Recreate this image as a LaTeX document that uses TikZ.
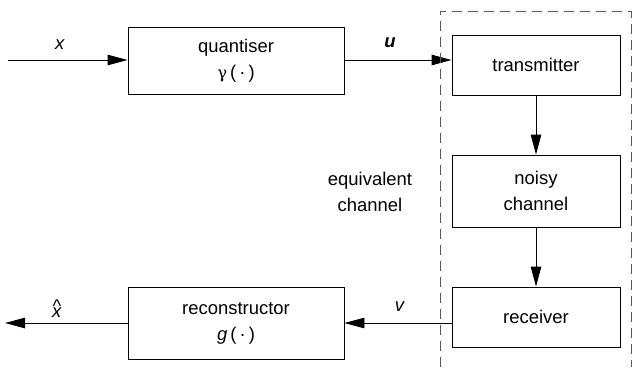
\documentclass[tikz,border=0pt]{standalone}
\usepackage{fontspec}
\setmainfont{Liberation Sans}
\newfontfamily\grk{DejaVu Serif}
\usetikzlibrary{arrows.meta}
\begin{document}
\begin{tikzpicture}[x=1bp,y=-1bp,
  blk/.style={draw, line width=0.9bp, align=center, inner sep=0pt, font=\fontsize{18.5}{26}\selectfont},
  arr/.style={line width=0.9bp, -{Triangle[length=20bp,width=10.5bp]}},
  lbl/.style={font=\fontsize{18.5}{26}\selectfont},
  dashline/.style={line width=0.9bp, dash pattern=on 10bp off 6bp, draw=black!65}]
\useasboundingbox (0,0) rectangle (632,367);
\node[blk, minimum width=216bp, minimum height=67bp] (q) at (236,61) {quantiser\\ {\grk\fontsize{16.5}{26}\selectfont γ}\,(\,·\,)};
\node[blk, minimum width=168bp, minimum height=60bp] (t) at (536,65) {transmitter};
\node[blk, minimum width=168bp, minimum height=72bp] (n) at (536,191) {noisy\\ channel};
\node[blk, minimum width=168bp, minimum height=60bp] (r) at (536,317) {receiver};
\node[blk, minimum width=216bp, minimum height=72bp] (rc) at (236,323) {reconstructor\\ \textit{g}\,(\,·\,)};
\node[lbl, align=center] (eq) at (370,192) {equivalent\\ channel};
\coordinate (in) at (8,60);
\coordinate (out) at (5,323);
\draw[arr] (in) -- (q.west |- in);
\draw[arr] (q.east |- in) -- (t.west |- in);
\draw[arr] (t.south) -- (n.north);
\draw[arr] (n.south) -- (r.north);
\draw[arr] (r.west |- rc.east) -- (rc.east);
\draw[arr] (rc.west) -- (out);
\node[lbl] (lx) at (60,45) {\textit{x}};
\node[lbl] (lu) at (390,43) {\textbf{\textit{u}}};
\node[lbl] (lv) at (400,307) {\textit{v}};
\node[lbl] (lxh) at (57,309) {\textit{x}\llap{\raisebox{0.28em}{\textasciicircum}\hspace{0.03em}}};
\draw[dashline] (440,367) -- (440,11) -- (631,11) -- (631,367);
\end{tikzpicture}
\end{document}
